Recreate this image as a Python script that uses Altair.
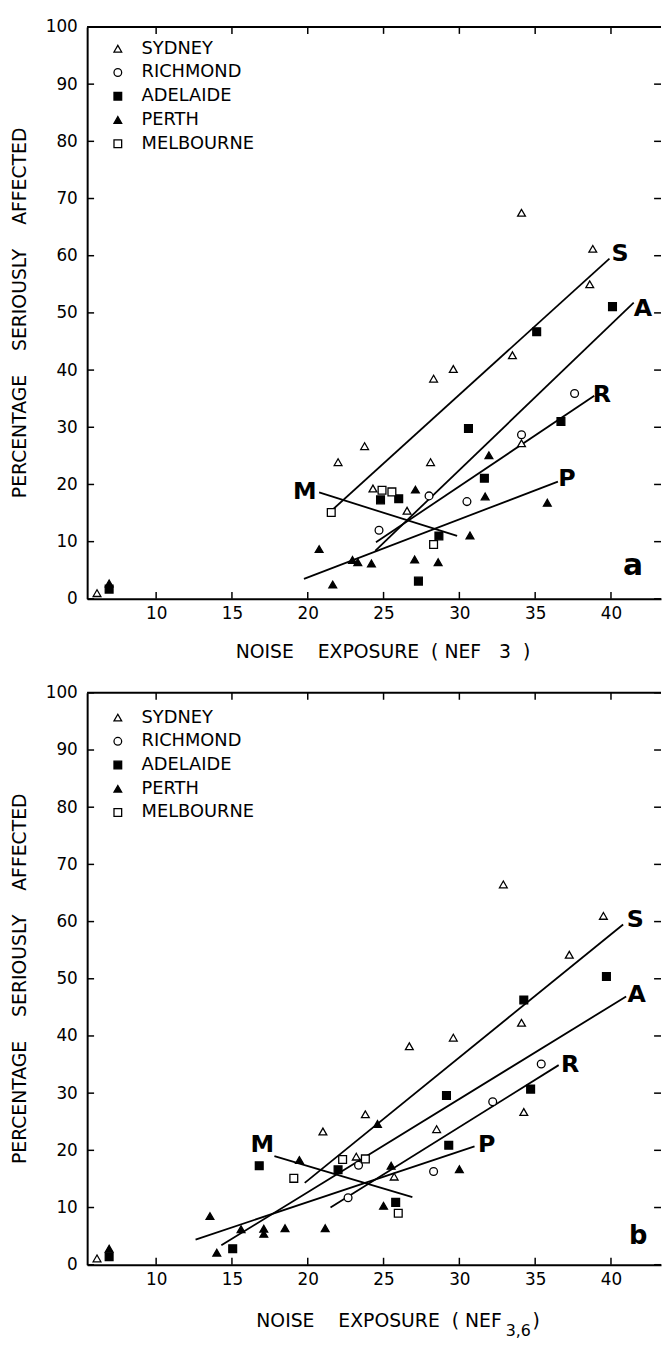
import altair as alt
import pandas as pd

FONT = "DejaVu Sans"
W, H = 580, 578

cities = ["SYDNEY", "RICHMOND", "ADELAIDE", "PERTH", "MELBOURNE"]
city_shapes = ["triangle-up", "circle", "square", "triangle-up", "square"]
city_fills = ["white", "white", "black", "black", "white"]
city_strokes = ["black", "black", "black", "black", "black"]

x_ticks = [10, 15, 20, 25, 30, 35, 40]
y_ticks = [0, 10, 20, 30, 40, 50, 60, 70, 80, 90, 100]

# ---------------- panel a (NEF 3) ----------------
a_sydney_x = [34.1, 38.8, 38.6, 33.5, 29.6, 28.3, 23.75, 22.0, 28.1, 24.3, 26.55, 34.1, 6.1]
a_sydney_y = [67.5, 61.2, 55.0, 42.6, 40.2, 38.5, 26.7, 23.9, 23.9, 19.3, 15.4, 27.2, 1.0]
a_richmond_x = [37.6, 34.1, 28.0, 30.5, 24.7]
a_richmond_y = [35.9, 28.7, 18.0, 17.0, 12.0]
a_adelaide_x = [40.1, 35.1, 30.6, 31.65, 24.8, 26.0, 36.7, 28.65, 27.3, 6.9]
a_adelaide_y = [51.1, 46.7, 29.8, 21.1, 17.3, 17.5, 31.0, 11.0, 3.1, 1.7]
a_perth_x = [31.95, 31.7, 35.8, 27.1, 30.7, 20.75, 22.95, 23.3, 24.2, 27.05, 28.6, 21.65, 6.9]
a_perth_y = [25.1, 17.9, 16.8, 19.1, 11.1, 8.7, 6.8, 6.4, 6.2, 6.9, 6.4, 2.5, 2.7]
a_melbourne_x = [21.55, 24.9, 25.55, 28.3]
a_melbourne_y = [15.1, 19.0, 18.7, 9.5]

a_line_names = ["S", "A", "R", "P", "M"]
a_line_x1 = [21.6, 24.45, 24.5, 19.75, 20.75]
a_line_y1 = [15.5, 8.4, 9.9, 3.5, 18.6]
a_line_x2 = [39.9, 41.5, 38.9, 36.5, 29.85]
a_line_y2 = [59.5, 51.8, 35.5, 20.5, 11.0]
a_label_x = [40.6, 42.1, 39.4, 37.1, 19.8]
a_label_y = [60.2, 50.6, 35.7, 21.0, 18.7]

# ---------------- panel b (NEF 3,6) ----------------
b_sydney_x = [32.9, 39.5, 37.25, 34.1, 29.6, 26.7, 23.8, 21.0, 34.25, 28.5, 23.2, 25.7, 6.1]
b_sydney_y = [66.5, 61.0, 54.2, 42.3, 39.7, 38.2, 26.3, 23.3, 26.7, 23.7, 18.9, 15.4, 1.1]
b_richmond_x = [35.4, 32.2, 23.35, 28.3, 22.66]
b_richmond_y = [35.1, 28.5, 17.4, 16.3, 11.7]
b_adelaide_x = [39.7, 34.25, 29.15, 34.7, 29.3, 16.8, 22.0, 25.8, 15.05, 6.9]
b_adelaide_y = [50.4, 46.3, 29.6, 30.7, 20.9, 17.3, 16.6, 10.9, 2.8, 1.4]
b_perth_x = [24.6, 19.45, 25.5, 30.0, 25.0, 13.55, 15.6, 17.1, 17.1, 18.5, 21.15, 14.0, 6.9]
b_perth_y = [24.6, 18.3, 17.3, 16.7, 10.3, 8.5, 6.2, 6.3, 5.4, 6.4, 6.4, 2.1, 2.8]
b_melbourne_x = [19.08, 22.3, 23.8, 25.97]
b_melbourne_y = [15.1, 18.4, 18.5, 9.0]

b_line_names = ["S", "A", "R", "P", "M"]
b_line_x1 = [19.8, 14.3, 21.5, 12.6, 17.8]
b_line_y1 = [14.3, 3.4, 10.0, 4.4, 19.0]
b_line_x2 = [40.8, 41.0, 36.55, 31.0, 26.9]
b_line_y2 = [59.5, 46.9, 34.9, 20.7, 11.8]
b_label_x = [41.6, 41.7, 37.3, 31.8, 17.0]
b_label_y = [60.3, 47.1, 34.9, 21.0, 20.9]

panel_letters = ["a", "b"]
panel_letter_x = [41.45, 41.8]
panel_letter_y = [5.8, 5.0]
panel_letter_size = [30, 26]

y_title = "PERCENTAGE\u00a0\u00a0\u00a0\u00a0SERIOUSLY\u00a0\u00a0\u00a0\u00a0AFFECTED"
x_title_a = "NOISE\u00a0\u00a0\u00a0\u00a0EXPOSURE\u00a0\u00a0(\u00a0NEF\u00a0\u00a0\u00a03\u00a0\u00a0)"
x_title_b_main = "NOISE\u00a0\u00a0\u00a0\u00a0EXPOSURE\u00a0\u00a0(\u00a0NEF"
x_title_b_sub = "3,6"
x_title_b_close = ")"

xscale = alt.Scale(domain=[5.45, 43.3], nice=False, zero=False)
yscale = alt.Scale(domain=[0, 100], nice=False, zero=False)

axis_common = dict(title=None, grid=False, ticks=False, tickSize=0,
                   labelFont=FONT, labelFontSize=17, labelColor="black",
                   domainColor="black", domainWidth=2, labelFlush=False,
                   labelOverlap=False)
xaxis = alt.Axis(values=x_ticks, labelPadding=7, **axis_common)
yaxis = alt.Axis(values=y_ticks, labelPadding=10, **axis_common)


def X(f):
    return alt.X(f, type="quantitative", scale=xscale, axis=xaxis)


def Y(f):
    return alt.Y(f, type="quantitative", scale=yscale, axis=yaxis)


def points_df(sx, sy, rx, ry, ax, ay, px, py, mx, my):
    rows = []
    for city, xs, ys in zip(cities, [sx, rx, ax, px, mx], [sy, ry, ay, py, my]):
        for xv, yv in zip(xs, ys):
            rows.append({"city": city, "x": xv, "y": yv})
    return pd.DataFrame(rows)


def panel(pts, names, x1, y1, x2, y2, lx, ly, idx, legend_y, sub_title):
    legend = alt.Legend(title=None, orient="none", legendX=22, legendY=legend_y,
                        labelFont=FONT, labelFontSize=18, labelColor="black",
                        symbolSize=60, symbolStrokeWidth=1.3,
                        rowPadding=6, labelOffset=15)
    p = alt.Chart(pts).mark_point(filled=True, strokeWidth=1.3,
                                  opacity=1, size=62).encode(
        x=X("x"), y=Y("y"),
        shape=alt.Shape("city:N", scale=alt.Scale(domain=cities, range=city_shapes), legend=legend),
        fill=alt.Fill("city:N", scale=alt.Scale(domain=cities, range=city_fills), legend=legend),
        stroke=alt.Stroke("city:N", scale=alt.Scale(domain=cities, range=city_strokes), legend=legend),
    )
    ldf = pd.DataFrame({"name": names, "x1": x1, "y1": y1, "x2": x2, "y2": y2, "lx": lx, "ly": ly})
    lines = alt.Chart(ldf).mark_rule(color="black", strokeWidth=1.8).encode(
        x=X("x1"), y=Y("y1"), x2="x2:Q", y2="y2:Q")
    labels = alt.Chart(ldf).mark_text(font=FONT, fontWeight="bold", fontSize=24, color="black",
                                       align="center", baseline="middle").encode(
        x=X("lx"), y=Y("ly"), text="name:N")
    letter = alt.Chart(pd.DataFrame({"t": [panel_letters[idx]], "x": [panel_letter_x[idx]],
                                     "y": [panel_letter_y[idx]]})).mark_text(
        font=FONT, fontWeight="bold", fontSize=panel_letter_size[idx], color="black",
        align="center", baseline="middle").encode(x=X("x"), y=Y("y"), text="t:N")
    xt = pd.DataFrame({"v": x_ticks})
    yt = pd.DataFrame({"v": y_ticks})
    top_ticks = alt.Chart(xt).mark_rule(color="black", strokeWidth=1.5).encode(
        x=X("v"), y=alt.value(0), y2=alt.value(7))
    bot_ticks = alt.Chart(xt).mark_rule(color="black", strokeWidth=1.5).encode(
        x=X("v"), y=alt.value(H), y2=alt.value(H - 7))
    left_ticks = alt.Chart(yt).mark_rule(color="black", strokeWidth=1.5).encode(
        y=Y("v"), x=alt.value(0), x2=alt.value(7))
    right_ticks = alt.Chart(yt).mark_rule(color="black", strokeWidth=1.5).encode(
        y=Y("v"), x=alt.value(W), x2=alt.value(W - 7))
    top_border = alt.Chart(pd.DataFrame({"v": [0]})).mark_rule(color="black", strokeWidth=2).encode(
        x=alt.value(0), x2=alt.value(W), y=alt.value(0))
    ytitle = alt.Chart(pd.DataFrame({"t": [y_title]})).mark_text(
        font=FONT, fontSize=19, color="black", angle=270, align="center", baseline="middle").encode(
        text="t:N", x=alt.value(-68), y=alt.value(H / 2))
    layers = [lines, p, labels, letter, top_ticks, bot_ticks, left_ticks, right_ticks, top_border, ytitle]
    if sub_title:
        t1 = alt.Chart(pd.DataFrame({"t": [x_title_b_main]})).mark_text(
            font=FONT, fontSize=19, color="black", align="right", baseline="middle").encode(
            text="t:N", x=alt.value(419), y=alt.value(H + 57))
        t2 = alt.Chart(pd.DataFrame({"t": [x_title_b_sub]})).mark_text(
            font=FONT, fontSize=16, color="black", align="left", baseline="middle").encode(
            text="t:N", x=alt.value(423), y=alt.value(H + 67))
        t3 = alt.Chart(pd.DataFrame({"t": [x_title_b_close]})).mark_text(
            font=FONT, fontSize=19, color="black", align="left", baseline="middle").encode(
            text="t:N", x=alt.value(450), y=alt.value(H + 57))
        layers += [t1, t2, t3]
    else:
        t1 = alt.Chart(pd.DataFrame({"t": [x_title_a]})).mark_text(
            font=FONT, fontSize=19, color="black", align="center", baseline="middle").encode(
            text="t:N", x=alt.value(299), y=alt.value(H + 54))
        layers += [t1]
    return alt.layer(*layers).properties(width=W, height=H)


pts_a = points_df(a_sydney_x, a_sydney_y, a_richmond_x, a_richmond_y, a_adelaide_x, a_adelaide_y,
                  a_perth_x, a_perth_y, a_melbourne_x, a_melbourne_y)
pts_b = points_df(b_sydney_x, b_sydney_y, b_richmond_x, b_richmond_y, b_adelaide_x, b_adelaide_y,
                  b_perth_x, b_perth_y, b_melbourne_x, b_melbourne_y)

panel_a = panel(pts_a, a_line_names, a_line_x1, a_line_y1, a_line_x2, a_line_y2,
                a_label_x, a_label_y, 0, 13, False)
panel_b = panel(pts_b, b_line_names, b_line_x1, b_line_y1, b_line_x2, b_line_y2,
                b_label_x, b_label_y, 1, 16, True)

chart = alt.vconcat(panel_a, panel_b, spacing=95, bounds="flush").resolve_scale(
    shape="independent", fill="independent", stroke="independent"
).resolve_legend(
    shape="independent", fill="independent", stroke="independent"
).configure_view(stroke=None).properties(
    padding={"left": 3, "top": 3, "right": 0, "bottom": 0},
    background="white",
)

chart.save("out.html", embed_options={"renderer": "svg", "actions": False})
